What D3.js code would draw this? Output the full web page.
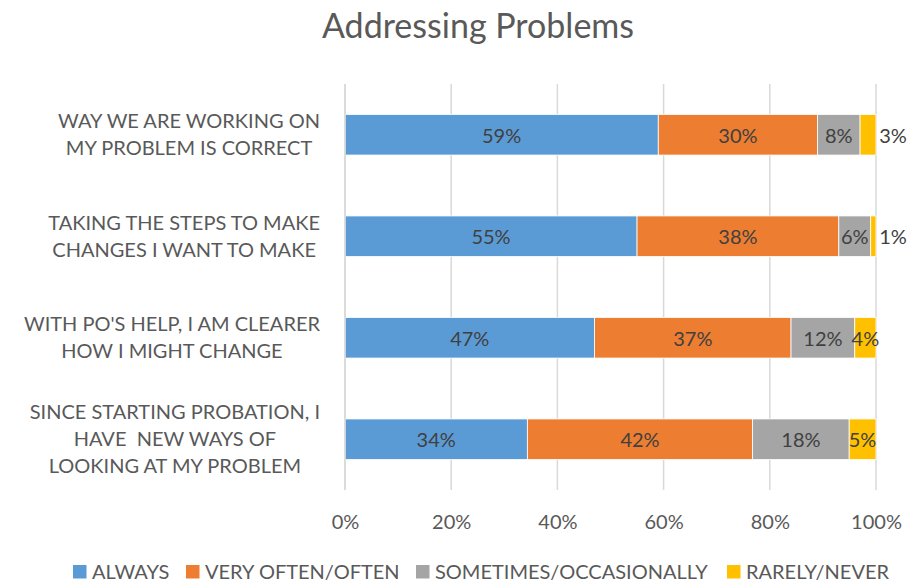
<!DOCTYPE html>
<html>
<head>
<meta charset="utf-8">
<script src="https://cdn.jsdelivr.net/npm/d3@7"></script>
<style>
  html, body { margin: 0; padding: 0; background: #ffffff; }
  svg { display: block; }
  text { font-family: Lato, "Open Sans", sans-serif; }
</style>
</head>
<body>
<svg id="chart" width="908" height="581"></svg>
<script>
const title = "Addressing Problems";
const categories = [
  ["WAY WE ARE WORKING ON", "MY PROBLEM IS CORRECT"],
  ["TAKING THE STEPS TO MAKE", "CHANGES I WANT TO MAKE"],
  ["WITH PO'S HELP, I AM CLEARER", "HOW I MIGHT CHANGE"],
  ["SINCE STARTING PROBATION, I", "HAVE  NEW WAYS OF", "LOOKING AT MY PROBLEM"]
];
const seriesNames = ["ALWAYS", "VERY OFTEN/OFTEN", "SOMETIMES/OCCASIONALLY", "RARELY/NEVER"];
const always     = [59, 55, 47, 34];
const veryOften  = [30, 38, 37, 42];
const sometimes  = [8, 6, 12, 18];
const rarely     = [3, 1, 4, 5];
const tickValues = [0, 0.2, 0.4, 0.6, 0.8, 1.0];
const colors = ["#5b9bd5", "#ed7d31", "#a5a5a5", "#ffc000"];

const svg = d3.select("#chart");
const W = 908, H = 581;
const margin = { left: 345, right: 32, top: 84, bottom: 91 };
const plotW = W - margin.left - margin.right;
const plotH = H - margin.top - margin.bottom;
const FS = 20;

const seriesValues = [always, veryOften, sometimes, rarely];
const rows = categories.map((c, i) => {
  const o = { idx: i };
  seriesNames.forEach((s, j) => o[s] = seriesValues[j][i]);
  return o;
});

const stack = d3.stack().keys(seriesNames).offset(d3.stackOffsetExpand);
const stacked = stack(rows);

const x = d3.scaleLinear().domain([0, 1]).range([margin.left, margin.left + plotW]);
const y = d3.scaleBand().domain(d3.range(categories.length)).range([margin.top, margin.top + plotH]).paddingInner(0.6).paddingOuter(0.3);

// Title
svg.append("text").attr("x", 478).attr("y", 38).attr("text-anchor", "middle")
  .attr("font-size", 34).attr("fill", "#595959").text(title);

// Gridlines
svg.append("g").selectAll("line").data(tickValues).join("line")
  .attr("x1", d => x(d)).attr("x2", d => x(d))
  .attr("y1", margin.top).attr("y2", margin.top + plotH)
  .attr("stroke", "#d9d9d9").attr("stroke-width", 1.5);

// X axis labels via d3 axis
const xAxis = d3.axisBottom(x).tickValues(tickValues).tickFormat(d3.format(".0%")).tickSize(0).tickPadding(0);
const gx = svg.append("g").attr("transform", `translate(0, ${margin.top + plotH + 39})`).call(xAxis);
gx.select(".domain").remove();
gx.selectAll("text").attr("font-size", FS).attr("fill", "#595959").attr("font-family", "Lato, 'Open Sans', sans-serif").attr("dy", null);

// Bars
const layer = svg.append("g").selectAll("g").data(stacked).join("g")
  .attr("fill", (d, i) => colors[i]);
layer.selectAll("rect").data(d => d).join("rect")
  .attr("x", d => x(d[0])).attr("width", d => x(d[1]) - x(d[0]))
  .attr("y", (d, i) => y(i)).attr("height", y.bandwidth())
  .attr("stroke", "#ffffff").attr("stroke-width", 0.8);

// Vertical axis line
svg.append("line").attr("x1", x(0)).attr("x2", x(0)).attr("y1", margin.top).attr("y2", margin.top + plotH)
  .attr("stroke", "#d9d9d9").attr("stroke-width", 1.5);

// Value labels
stacked.forEach((s, si) => {
  s.forEach((d, i) => {
    const v = seriesValues[si][i];
    const outside = v < 4;
    const cx = outside ? x(d[1]) + 17 : (x(d[0]) + x(d[1])) / 2;
    svg.append("text").attr("x", cx).attr("y", y(i) + y.bandwidth() / 2 + 8)
      .attr("text-anchor", "middle").attr("font-size", FS).attr("fill", "#404040")
      .text(v + "%");
  });
});

// Category labels (wrapped, centered block right-aligned to axis)
const catG = svg.append("g");
categories.forEach((lines, i) => {
  const g = catG.append("g");
  const lh = 27;
  const cy = y(i) + y.bandwidth() / 2;
  const startY = cy - (lines.length - 1) * lh / 2 + 7;
  const ts = lines.map((l, k) => g.append("text").attr("y", startY + k * lh)
    .attr("font-size", FS).attr("fill", "#595959").attr("text-anchor", "middle")
    .attr("xml:space", "preserve").style("white-space", "pre").text(l));
  const maxW = d3.max(ts, t => t.node().getComputedTextLength());
  const right = 320;
  ts.forEach(t => t.attr("x", right - maxW / 2));
});

// Legend
const legendX = [73, 186, 416, 727];
const lg = svg.append("g");
seriesNames.forEach((s, i) => {
  lg.append("rect").attr("x", legendX[i]).attr("y", 565).attr("width", 13.5).attr("height", 13.5).attr("fill", colors[i]);
  lg.append("text").attr("x", legendX[i] + 19).attr("y", 578.5).attr("font-size", FS).attr("fill", "#595959").text(s);
});
</script>
</body>
</html>
